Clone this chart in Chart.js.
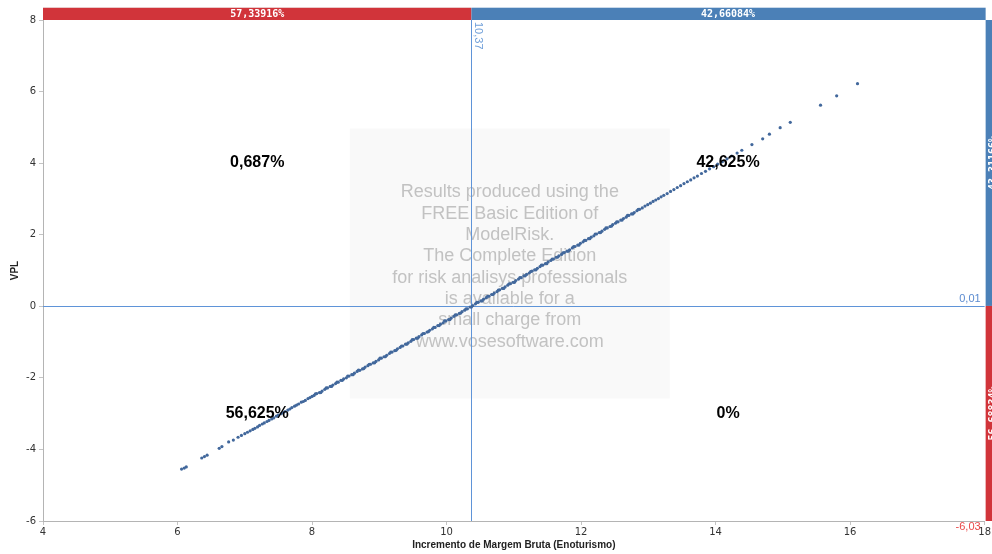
<!DOCTYPE html>
<html><head><meta charset="utf-8">
<script src="https://cdn.jsdelivr.net/npm/chart.js@4.4.0/dist/chart.umd.min.js"></script>
<style>html,body{margin:0;padding:0;background:#fff}canvas{display:block}</style>
</head><body><canvas id="c" width="992" height="554"></canvas>
<script>
// ---- data ----
const xValues = [6.06,6.10,6.13,6.36,6.40,6.44,6.62,6.66,6.76,6.83,6.90,6.95,7.00,7.04,7.08,7.12,7.15,7.19,7.22,7.26,7.29,7.33,7.36,7.40,7.43,7.47,7.50,7.54,7.57,7.60,7.64,7.67,7.70,7.74,7.77,7.80,7.84,7.87,7.90,7.94,7.97,8.00,
8.03,8.07,8.11,8.15,8.19,8.23,8.27,8.31,8.35,8.39,8.43,8.47,8.51,8.55,8.59,8.63,8.67,8.71,8.75,8.79,8.83,8.87,8.91,8.95,8.99,
9.03,9.07,9.11,9.15,9.19,9.23,9.27,9.31,9.35,9.39,9.43,9.47,9.51,9.55,9.59,9.63,9.67,9.71,9.75,9.79,9.83,9.87,9.91,9.95,9.99,
10.03,10.07,10.11,10.15,10.19,10.23,10.27,10.31,10.35,10.39,10.43,10.47,10.51,10.55,10.59,10.63,10.67,10.71,10.75,10.79,10.83,10.87,10.91,10.95,10.99,
11.03,11.07,11.11,11.15,11.19,11.23,11.27,11.31,11.35,11.39,11.43,11.47,11.51,11.55,11.59,11.63,11.67,11.71,11.75,11.79,11.83,11.87,11.91,11.95,11.99,
12.03,12.07,12.11,12.15,12.19,12.23,12.27,12.31,12.35,12.39,12.43,12.47,12.51,12.55,12.59,12.63,12.67,12.71,12.75,12.79,12.83,12.87,12.91,12.95,12.99,
13.03,13.07,13.11,13.15,13.19,13.23,13.28,13.33,13.38,13.43,13.48,13.53,13.58,13.63,13.68,13.73,13.79,13.85,13.91,13.97,14.03,14.10,14.17,14.24,
14.32,14.39,14.54,14.70,14.80,14.96,15.11,15.56,15.80,16.11,
8.05,8.13,8.21,8.29,8.37,8.45,8.53,8.61,8.69,8.77,8.85,8.93,9.01,9.09,9.17,9.25,9.33,9.41,9.49,9.57,9.65,9.73,9.81,9.89,9.97,
10.05,10.13,10.21,10.29,10.37,10.45,10.53,10.61,10.69,10.77,10.85,10.93,11.01,11.09,11.17,11.25,11.33,11.41,11.49,11.57,11.65,11.73,11.81,11.89,11.97,
12.05,12.13,12.21,12.29,12.37,12.45,12.53,12.61,12.69,12.77,12.85];
const yValues = [-4.55,-4.52,-4.49,-4.24,-4.20,-4.16,-3.97,-3.92,-3.79,-3.74,-3.66,-3.61,-3.56,-3.52,-3.48,-3.44,-3.41,-3.37,-3.33,-3.29,-3.26,-3.22,-3.19,-3.15,-3.12,-3.07,-3.04,-3.00,-2.97,-2.94,-2.90,-2.87,-2.83,-2.79,-2.76,-2.73,-2.68,-2.66,-2.63,-2.58,-2.55,-2.52,
-2.49,-2.44,-2.41,-2.37,-2.32,-2.28,-2.24,-2.20,-2.16,-2.12,-2.07,-2.03,-2.00,-1.95,-1.91,-1.87,-1.82,-1.79,-1.75,-1.70,-1.66,-1.62,-1.58,-1.54,-1.50,
-1.45,-1.41,-1.37,-1.32,-1.28,-1.24,-1.19,-1.15,-1.11,-1.06,-1.02,-0.98,-0.93,-0.89,-0.85,-0.80,-0.76,-0.72,-0.67,-0.63,-0.59,-0.54,-0.50,-0.46,-0.41,
-0.37,-0.33,-0.28,-0.24,-0.20,-0.15,-0.11,-0.07,-0.02,0.02,0.07,0.11,0.15,0.20,0.24,0.28,0.33,0.37,0.41,0.46,0.50,0.54,0.59,0.63,0.67,
0.72,0.76,0.80,0.85,0.89,0.93,0.98,1.02,1.06,1.11,1.15,1.19,1.24,1.28,1.32,1.37,1.41,1.45,1.50,1.54,1.58,1.63,1.67,1.71,1.76,
1.80,1.84,1.89,1.93,1.97,2.02,2.06,2.10,2.15,2.19,2.23,2.28,2.32,2.36,2.41,2.45,2.49,2.54,2.58,2.62,2.67,2.71,2.75,2.80,2.84,
2.88,2.93,2.97,3.01,3.06,3.10,3.15,3.21,3.26,3.32,3.37,3.43,3.48,3.53,3.59,3.64,3.71,3.77,3.84,3.90,3.97,4.04,4.12,4.20,
4.28,4.36,4.52,4.68,4.81,4.99,5.14,5.62,5.88,6.22,
-2.45,-2.41,-2.28,-2.24,-2.12,-2.07,-1.95,-1.91,-1.78,-1.74,-1.62,-1.58,-1.45,-1.41,-1.28,-1.23,-1.11,-1.06,-0.93,-0.89,-0.76,-0.71,-0.59,-0.54,-0.41,
-0.37,-0.24,-0.19,-0.07,-0.02,0.11,0.15,0.28,0.33,0.45,0.50,0.63,0.67,0.80,0.85,0.97,1.02,1.15,1.19,1.32,1.37,1.49,1.54,1.67,1.71,
1.84,1.89,2.02,2.06,2.19,2.24,2.36,2.41,2.54,2.58,2.71];
const xTicks = [4, 6, 8, 10, 12, 14, 16, 18];
const yTicks = [-6, -4, -2, 0, 2, 4, 6, 8];
const xSplit = 10.37, xSplitLabel = '10,37';
const ySplit = 0.01, ySplitLabel = '0,01';
const yLow = -6.03, yLowLabel = '-6,03';
const topBarLabels = ['57,33916%', '42,66084%'];
const rightBarLabels = ['43,31166%', '56,68834%'];
const quadrantLabels = ['0,687%', '42,625%', '56,625%', '0%']; // TL, TR, BL, BR
const xTitle = 'Incremento de Margem Bruta (Enoturismo)';
const yTitle = 'VPL';
const watermarkLines = ['Results produced using the', 'FREE Basic Edition of', 'ModelRisk.', 'The Complete Edition', 'for risk analisys professionals', 'is available for a', 'small charge from', 'www.vosesoftware.com'];

const RED = '#d1343a', BLUE = '#4b80b7', GUIDE = '#5f94d8';

const overlay = {
  id: 'overlay',
  beforeDatasetsDraw(chart) {
    const {ctx, chartArea: a, scales: {x, y}} = chart;
    ctx.save();
    // watermark
    const cx = (a.left + a.right) / 2 - 2, cy = (a.top + a.bottom) / 2 - 7;
    ctx.fillStyle = '#f9f9f9';
    ctx.fillRect(cx - 162, cy - 135, 320, 270);
    ctx.fillStyle = '#c2c2c2';
    ctx.font = '18px "Liberation Sans", Arial, sans-serif';
    ctx.textAlign = 'center'; ctx.textBaseline = 'middle';
    watermarkLines.forEach((t, i) => ctx.fillText(t, cx - 2, cy - 71 + i * 21.3));
    // guide lines
    ctx.strokeStyle = GUIDE; ctx.lineWidth = 1;
    const vx = Math.round(x.getPixelForValue(xSplit)) + 0.5;
    const hy = Math.round(y.getPixelForValue(ySplit)) + 0.5;
    ctx.beginPath(); ctx.moveTo(vx, a.top); ctx.lineTo(vx, a.bottom); ctx.stroke();
    ctx.beginPath(); ctx.moveTo(a.left, hy); ctx.lineTo(a.right, hy); ctx.stroke();
    ctx.restore();
  },
  afterDatasetsDraw(chart) {
    const {ctx, chartArea: a, scales: {x, y}} = chart;
    ctx.save();
    const vx = x.getPixelForValue(xSplit);
    const hy = y.getPixelForValue(ySplit);
    // quadrant labels
    ctx.fillStyle = '#000';
    ctx.font = 'bold 16px "Liberation Sans", Arial, sans-serif';
    ctx.textAlign = 'center'; ctx.textBaseline = 'middle';
    const xl = x.getPixelForValue((x.min + xSplit) / 2), xr = x.getPixelForValue((xSplit + x.max) / 2);
    const yt = y.getPixelForValue((ySplit + y.max) / 2), yb = y.getPixelForValue((yLow + ySplit) / 2);
    ctx.fillText(quadrantLabels[0], xl, yt);
    ctx.fillText(quadrantLabels[1], xr, yt);
    ctx.fillText(quadrantLabels[2], xl, yb);
    ctx.fillText(quadrantLabels[3], xr, yb);
    // top bar
    ctx.fillStyle = '#e9c9ca'; ctx.fillRect(a.left, a.top - 13, vx - a.left, 1);
    ctx.fillStyle = '#c9d9ea'; ctx.fillRect(vx, a.top - 13, a.right + 1 - vx, 1);
    ctx.fillStyle = RED; ctx.fillRect(a.left, a.top - 12, vx - a.left, 12);
    ctx.fillStyle = BLUE; ctx.fillRect(vx, a.top - 12, a.right + 1 - vx, 12);
    ctx.fillStyle = '#fff';
    ctx.font = 'bold 10px "DejaVu Sans Mono", monospace';
    ctx.fillText(topBarLabels[0], (a.left + vx) / 2, a.top - 6);
    ctx.fillText(topBarLabels[1], (vx + a.right) / 2, a.top - 6);
    // right bar
    const rb = a.right + 1;
    ctx.fillStyle = BLUE; ctx.fillRect(rb, a.top, 12, hy - a.top);
    ctx.fillStyle = RED; ctx.fillRect(rb, hy, 12, a.bottom - hy);
    ctx.fillStyle = '#fff';
    [[rightBarLabels[0], (a.top + hy) / 2], [rightBarLabels[1], (hy + a.bottom) / 2]].forEach(([t, py]) => {
      ctx.save(); ctx.translate(rb + 8, py); ctx.rotate(-Math.PI / 2);
      ctx.fillText(t, 0, 0); ctx.restore();
    });
    // split labels
    ctx.font = '11px "Liberation Sans", Arial, sans-serif';
    ctx.fillStyle = '#6f9fd9';
    ctx.save(); ctx.translate(vx + 7, a.top + 2); ctx.rotate(Math.PI / 2);
    ctx.textAlign = 'left'; ctx.fillText(xSplitLabel, 0, 0); ctx.restore();
    ctx.textAlign = 'right'; ctx.textBaseline = 'bottom';
    ctx.fillStyle = '#5b8bd0';
    ctx.fillText(ySplitLabel, a.right - 4, hy - 1);
    ctx.fillStyle = '#ea4a4a'; ctx.textBaseline = 'middle';
    ctx.fillText(yLowLabel, a.right - 4, a.bottom + 6);
    // axis titles
    ctx.fillStyle = '#222';
    ctx.font = 'bold 10px "Liberation Sans", Arial, sans-serif';
    ctx.textAlign = 'center';
    ctx.fillText(xTitle, (a.left + a.right) / 2, 545);
    ctx.save(); ctx.translate(15, (a.top + a.bottom) / 2); ctx.rotate(-Math.PI / 2);
    ctx.fillText(yTitle, 0, 0); ctx.restore();
    ctx.restore();
  }
};

const tickFont = {family: '"DejaVu Sans", Tahoma, sans-serif', size: 10};
new Chart(document.getElementById('c'), {
  type: 'scatter',
  data: {datasets: [{
    data: xValues.map((v, i) => ({x: v, y: yValues[i]})),
    backgroundColor: '#42689c', borderColor: '#42689c',
    pointRadius: 1.6, borderWidth: 0, pointHoverRadius: 1.6
  }]},
  options: {
    responsive: false, animation: false, devicePixelRatio: 1,
    layout: {padding: {top: 20, right: 7, left: 0, bottom: 0}},
    plugins: {legend: {display: false}, tooltip: {enabled: false}},
    scales: {
      x: {
        type: 'linear', min: xTicks[0], max: xTicks[xTicks.length - 1],
        afterBuildTicks: s => { s.ticks = xTicks.map(v => ({value: v})); },
        afterFit: s => { s.height = 33; },
        ticks: {color: '#333', font: tickFont, padding: 1, maxRotation: 0, callback: v => String(v)},
        grid: {drawOnChartArea: false, drawTicks: true, tickLength: 4, color: '#c4c4c4'},
        border: {display: true, color: '#b4b4b4'}
      },
      y: {
        type: 'linear', min: yTicks[0], max: yTicks[yTicks.length - 1],
        afterBuildTicks: s => { s.ticks = yTicks.map(v => ({value: v})); },
        afterFit: s => { s.width = 43; },
        ticks: {color: '#333', font: tickFont, padding: 3, callback: v => String(v)},
        grid: {drawOnChartArea: false, drawTicks: true, tickLength: 4, color: '#c4c4c4'},
        border: {display: true, color: '#b4b4b4'}
      }
    }
  },
  plugins: [overlay]
});
</script></body></html>
